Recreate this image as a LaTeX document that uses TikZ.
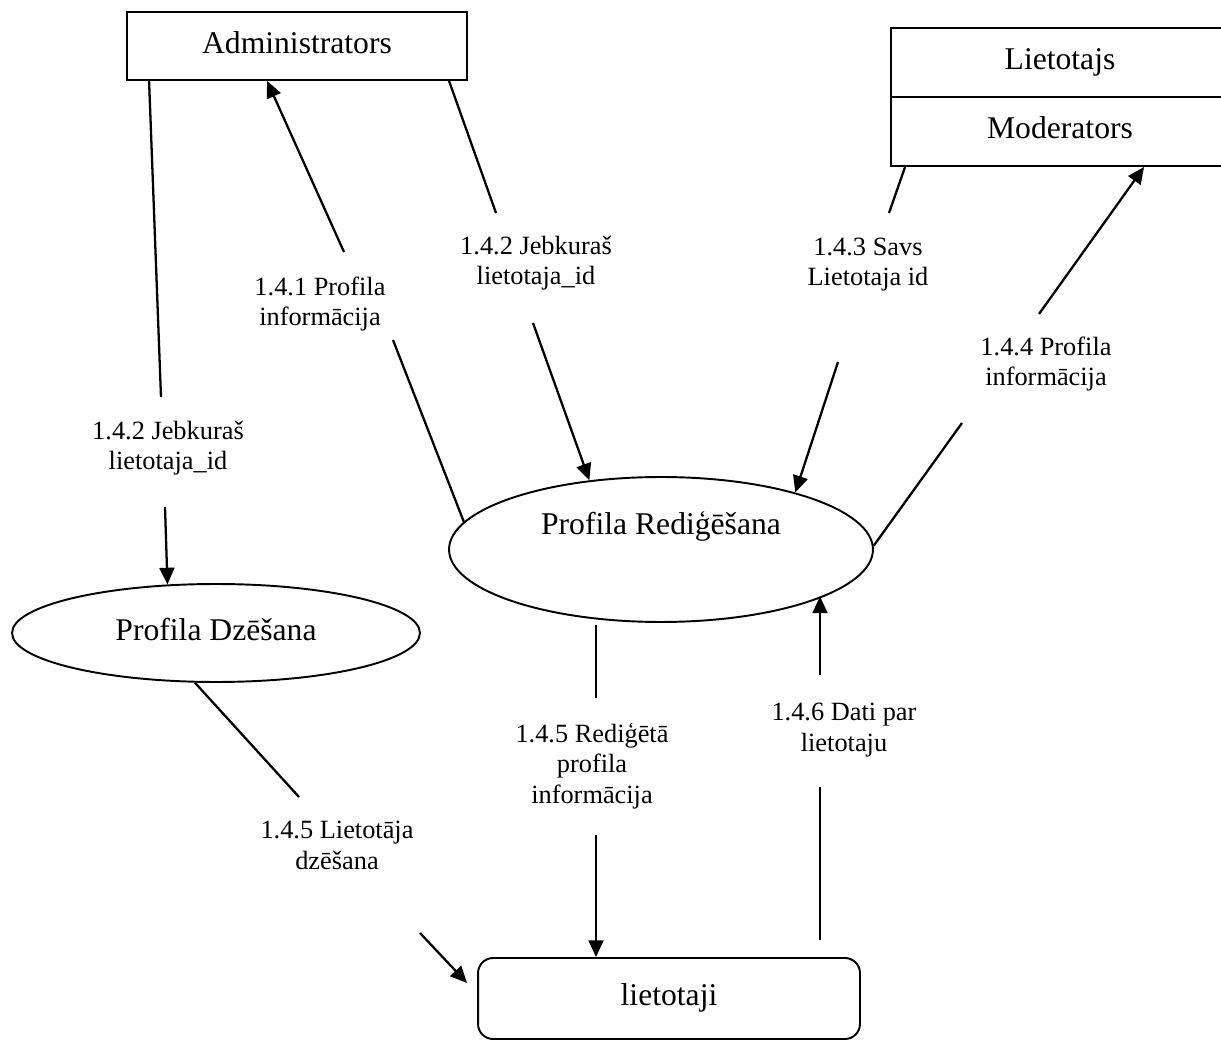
\documentclass[tikz,border=0pt]{standalone}
\usepackage{fontspec}
\setmainfont{Liberation Serif}
\usetikzlibrary{arrows.meta,calc,shapes.geometric}
\begin{document}
\begin{tikzpicture}[x=0.02cm,y=-0.02cm,
  bigtxt/.style={font=\fontsize{18}{21}\selectfont},
  boxnode/.style={draw,line width=1.1pt,rectangle,inner sep=0pt,bigtxt,text height=12.6pt,text depth=4.5pt},
  ellnode/.style={draw,line width=1.1pt,ellipse,inner sep=0pt,bigtxt,text height=12.6pt,text depth=4.5pt},
  lbl/.style={align=center,anchor=base,inner sep=0pt,font=\fontsize{15}{17.2}\selectfont},
  conn/.style={line width=1.3pt},
  arr/.style={line width=1.3pt,-{Triangle[length=9.5pt,width=8.5pt]}}]
\clip (0,0) rectangle (1221,1043);
\fill[white] (0,0) rectangle (1221,1043);

% nodes
\node[boxnode,minimum width=6.8cm,minimum height=1.36cm] (admin) at (297,46) {Administrators};
\node[boxnode,minimum width=6.76cm,minimum height=1.38cm] (liet) at (1060,62.5) {Lietotajs};
\node[boxnode,minimum width=6.76cm,minimum height=1.38cm] (mod) at (1060,131.5) {Moderators};
\node[ellnode,minimum width=8.48cm,minimum height=2.9cm] (rp) at (661,549.5) {};
\node[bigtxt,anchor=base,inner sep=0pt] (rptext) at (661,535) {Profila Rediģēšana};
\node[ellnode,minimum width=8.16cm,minimum height=1.96cm] (pd) at (216,633) {Profila Dzēšana};
\node[boxnode,rounded corners=0.3cm,minimum width=7.64cm,minimum height=1.62cm] (users) at (669,998.5) {lietotaji};

% labels (anchor base = baseline of last line)
\node[lbl] (l1) at (168,470) {1.4.2 Jebkuraš\\lietotaja\_id};
\node[lbl] (l2) at (320,326) {1.4.1 Profila\\informācija};
\node[lbl] (l3) at (536,285) {1.4.2 Jebkuraš\\lietotaja\_id};
\node[lbl] (l4) at (868,286) {1.4.3 Savs\\Lietotaja id};
\node[lbl] (l5) at (1046,386) {1.4.4 Profila\\informācija};
\node[lbl] (l6) at (592,803) {1.4.5 Rediģētā\\profila\\informācija};
\node[lbl] (l7) at (844,751) {1.4.6 Dati par\\lietotaju};
\node[lbl] (l8) at (337,869) {1.4.5 Lietotāja\\dzēšana};

% free ends
\coordinate (c1a) at (161,397);
\coordinate (c1b) at (165,507);
\coordinate (c2a) at (344,252);
\coordinate (c2b) at (393,340);
\coordinate (c3a) at (496,213);
\coordinate (c3b) at (533,323);
\coordinate (c4a) at (889,213);
\coordinate (c4b) at (838,362);
\coordinate (c5a) at (1039,314);
\coordinate (c5b) at (962,423);
\coordinate (c6a) at (596,625);
\coordinate (c6b) at (596,698);
\coordinate (c6c) at (596,835);
\coordinate (c7a) at (820,940);
\coordinate (c7b) at (820,787);
\coordinate (c7c) at (820,675);
\coordinate (c8a) at (299,797);
\coordinate (c8b) at (420,933);
\coordinate (c8c) at (467,983);

% connectors
\draw[conn] ($(admin.south west)+(23,0)$) -- (c1a);
\draw[arr] (c1b) -- (pd.135);

\draw[arr] (c2a) -- ($(admin.south west)+(141,0)$);
\draw[conn] (c2b) -- (rp.172.3);

\draw[conn] ($(admin.south west)+(323,0)$) -- (c3a);
\draw[arr] (c3b) -- (rp.136.1);

\draw[conn] ($(mod.south west)+(15,0)$) -- (c4a);
\draw[arr] (c4b) -- (rp.23.5);

\draw[arr] (c5a) -- ($(mod.south west)+(254,0)$);
\draw[conn] (c5b) -- (rp.1.5);

\draw[conn] (c6a) -- (c6b);
\draw[arr] (c6c) -- (c6c |- users.north);

\draw[conn] (c7a) -- (c7b);
\draw[arr] (c7c) -- (c7c |- rp.-16.8);

\draw[conn] (pd.-113) -- (c8a);
\draw[arr] (c8b) -- (c8c);
\end{tikzpicture}
\end{document}
